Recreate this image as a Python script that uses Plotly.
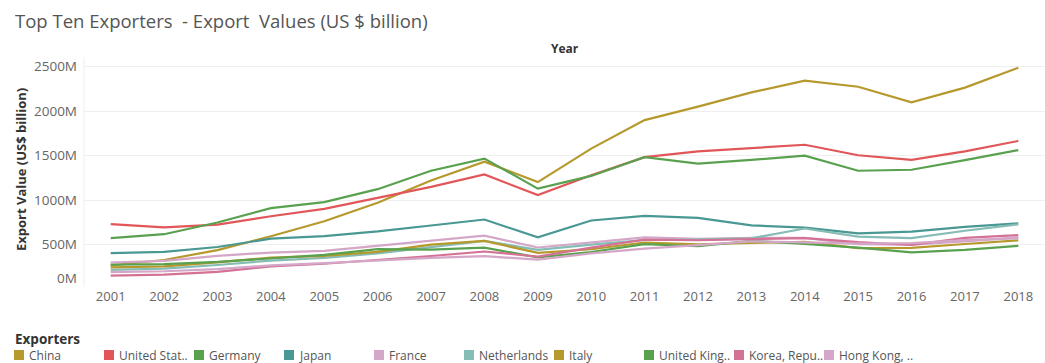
import plotly.graph_objects as go

# Years and export values per exporter (in the axis units, labelled "M")
years = list(range(2001, 2019))

exporters = ["China", "United States", "Germany", "Japan", "France",
             "Netherlands", "Italy", "United Kingdom", "Korea, Republic of",
             "Hong Kong, China"]
legend_labels = ["China", "United Stat..", "Germany", "Japan", "France",
                 "Netherlands", "Italy", "United King..", "Korea, Repu..",
                 "Hong Kong, .."]

china = [266, 326, 438, 593, 762, 969, 1220, 1431, 1202, 1578, 1898, 2049, 2209, 2342, 2273, 2098, 2263, 2487]
united_states = [729, 693, 724, 818, 901, 1026, 1148, 1287, 1056, 1278, 1482, 1546, 1580, 1621, 1503, 1451, 1546, 1664]
germany = [571, 616, 748, 909, 977, 1122, 1329, 1466, 1128, 1271, 1482, 1410, 1451, 1498, 1329, 1340, 1448, 1561]
japan = [403, 417, 472, 566, 595, 647, 714, 781, 581, 770, 823, 799, 715, 690, 625, 645, 698, 738]
france = [297, 316, 373, 410, 429, 486, 540, 599, 467, 520, 580, 565, 575, 575, 505, 500, 535, 580]
netherlands = [215, 230, 270, 320, 350, 400, 470, 542, 440, 500, 551, 555, 570, 680, 588, 572, 655, 727]
italy = [244, 254, 299, 353, 373, 417, 500, 540, 406, 447, 523, 501, 518, 529, 459, 462, 506, 547]
united_kingdom = [273, 280, 305, 347, 384, 448, 442, 466, 356, 416, 505, 481, 542, 506, 466, 411, 441, 486]
korea = [150, 162, 194, 254, 284, 325, 371, 422, 364, 466, 555, 548, 560, 573, 527, 495, 574, 605]
hong_kong = [190, 200, 224, 266, 292, 323, 350, 370, 330, 401, 455, 493, 536, 524, 511, 517, 550, 569]

series = [china, united_states, germany, japan, france,
          netherlands, italy, united_kingdom, korea, hong_kong]

colors = ["#B6992D", "#E15759", "#59A14F", "#499894", "#D4A6C8",
          "#86BCB6", "#B6992D", "#59A14F", "#D37295", "#D4A6C8"]

y_ticks = [500, 1000, 1500, 2000, 2500]

# Canvas geometry (pixels)
W, H = 1045, 363
ML, MR, MT, MB = 84, 0, 57, 76
PW, PH = W - ML - MR, H - MT - MB


def px_x(x):
    return (x - ML) / PW


def px_y(y):
    return (H - MB - y) / PH


fig = go.Figure()

# Draw the lines (last series drawn on top)
for name, vals, col in zip(exporters, series, colors):
    fig.add_trace(go.Scatter(
        x=years, y=vals, mode="lines", name=name,
        line=dict(color=col, width=2.2), showlegend=False,
        hovertemplate="%{x}: %{y}M<extra>" + name + "</extra>",
    ))

font_family = "Open Sans, Noto Sans, sans-serif"

annotations = [
    dict(text="Top Ten Exporters&nbsp; - Export&nbsp; Values (US $ billion)",
         xref="paper", yref="paper", x=px_x(13), y=px_y(20),
         xanchor="left", yanchor="middle", showarrow=False,
         font=dict(size=18.5, color="#555555", family=font_family)),
    dict(text="<b>Year</b>", xref="paper", yref="paper",
         x=0.5, y=px_y(48), xanchor="center", yanchor="middle",
         showarrow=False, font=dict(size=12, color="#333333", family=font_family)),
    dict(text="<b>Export Value (US$ billion)</b>", xref="paper", yref="paper",
         x=px_x(21), y=px_y(170), xanchor="center", yanchor="middle",
         textangle=-90, showarrow=False,
         font=dict(size=13, color="#333333", family=font_family)),
    dict(text="0M", xref="paper", yref="paper", x=px_x(79), y=px_y(278),
         xanchor="right", yanchor="middle", showarrow=False,
         font=dict(size=13.5, color="#666666", family=font_family)),
    dict(text="<b>Exporters</b>", xref="paper", yref="paper",
         x=px_x(13), y=px_y(339), xanchor="left", yanchor="middle",
         showarrow=False, font=dict(size=13.5, color="#333333", family=font_family)),
]

shapes = []
# Colour legend: swatch + label per exporter
for i, (lab, col) in enumerate(zip(legend_labels, colors)):
    x0 = 14 + 90 * i
    shapes.append(dict(type="rect", xref="paper", yref="paper",
                       x0=px_x(x0), x1=px_x(x0 + 10),
                       y0=px_y(360), y1=px_y(350),
                       fillcolor=col, line=dict(width=0)))
    annotations.append(dict(text=lab, xref="paper", yref="paper",
                            x=px_x(x0 + 13), y=px_y(355),
                            xanchor="left", yanchor="middle", showarrow=False,
                            font=dict(size=12, color="#555555", family=font_family)))

# Left axis border
shapes.append(dict(type="line", xref="paper", yref="paper", x0=0, x1=0,
                   y0=0, y1=1, line=dict(color="#eeeeee", width=1)))

fig.update_layout(
    width=W, height=H,
    margin=dict(l=ML, r=MR, t=MT, b=MB),
    paper_bgcolor="white", plot_bgcolor="white",
    showlegend=False,
    font=dict(family=font_family),
    annotations=annotations,
    shapes=shapes,
    xaxis=dict(
        range=[2000.5, 2018.5], tickmode="array", tickvals=years,
        ticktext=[str(y) for y in years], showgrid=False, zeroline=False,
        showline=False, ticks="", tickfont=dict(size=13, color="#666666"),
        fixedrange=True,
    ),
    yaxis=dict(
        range=[23, 2607], tickmode="array", tickvals=y_ticks,
        ticktext=[f"{v}M" for v in y_ticks], showgrid=True,
        gridcolor="#efefef", gridwidth=1, zeroline=False, showline=False,
        ticks="", ticklabelstandoff=6,
        tickfont=dict(size=13.5, color="#666666"), fixedrange=True,
    ),
)

fig.write_html("out.html")
